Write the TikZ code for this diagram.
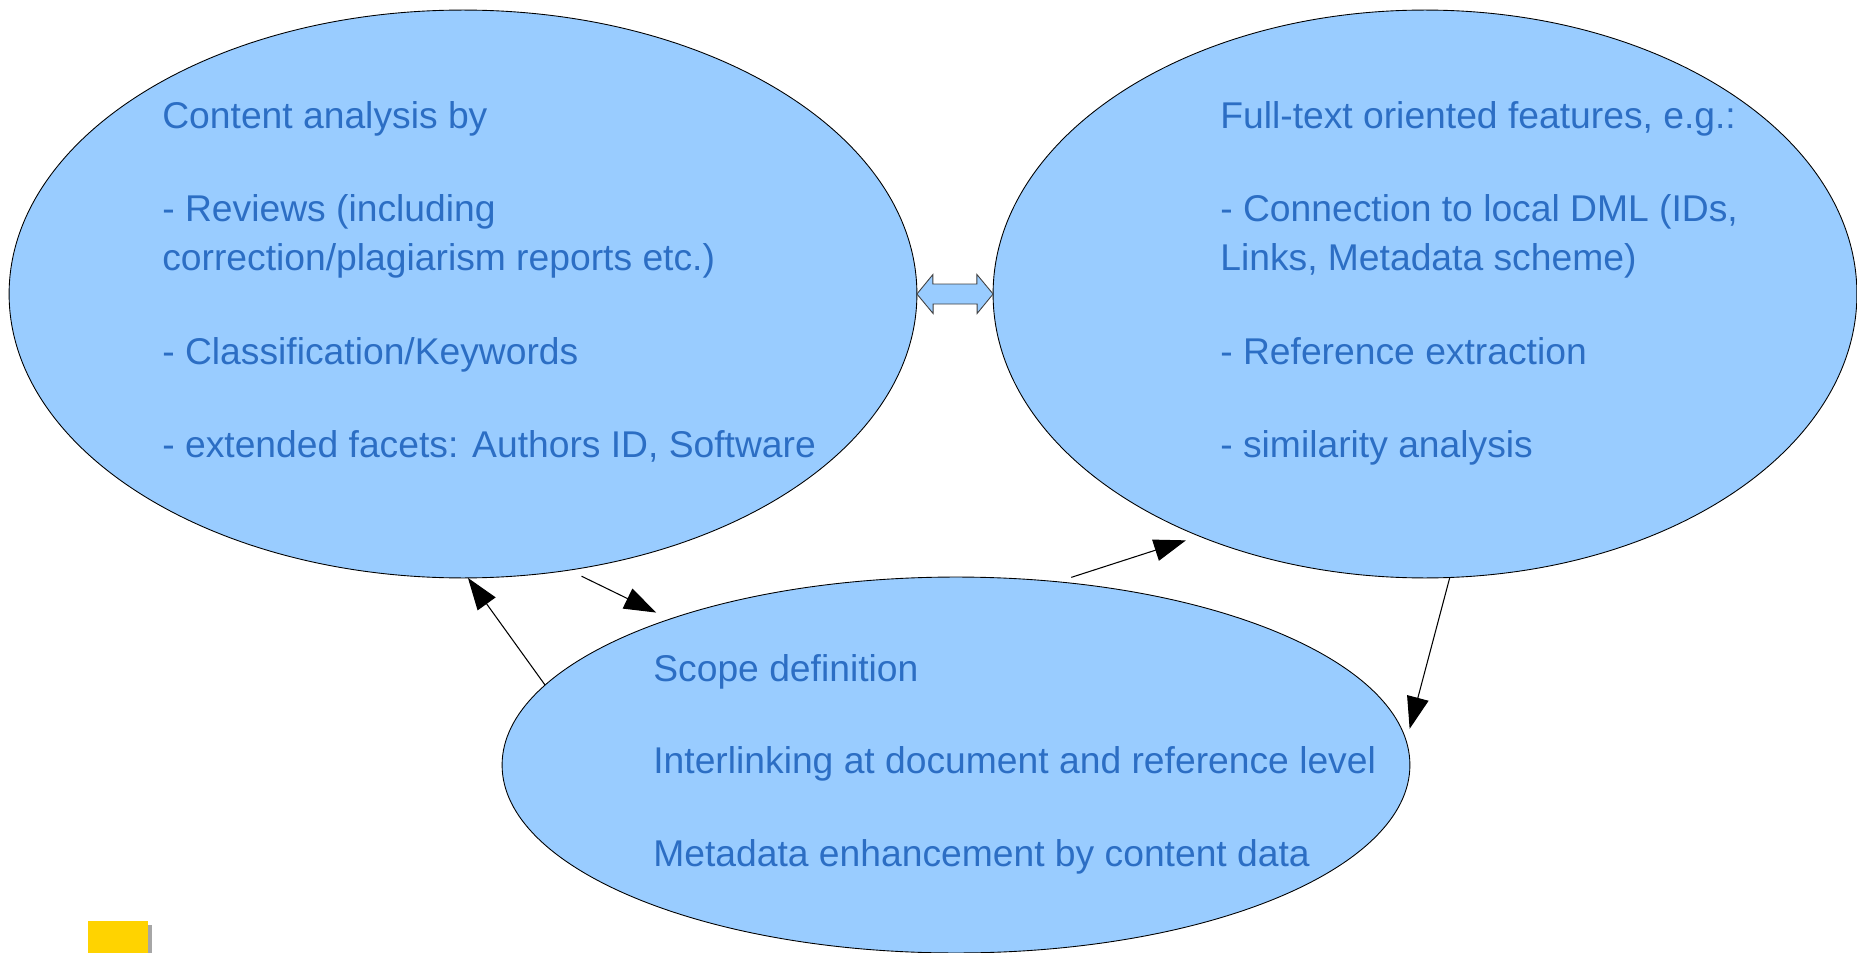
\documentclass[tikz,border=0pt]{standalone}
\usepackage{fontspec}
\setmainfont{Liberation Sans}
\usetikzlibrary{shapes.geometric,arrows.meta}
\definecolor{bubblefill}{RGB}{153,204,255}
\definecolor{bubbletext}{RGB}{44,110,196}
\definecolor{notegold}{RGB}{255,211,0}
\begin{document}
\begin{tikzpicture}[x={0.02cm},y={-0.02cm},
  bubble/.style={ellipse,draw=black,fill=bubblefill,line width=0.5pt,inner sep=0pt,outer sep=0pt},
  txt/.style={anchor=base west,inner sep=0pt,text=bubbletext,font=\fontsize{21.2pt}{25pt}\selectfont},
  link/.style={line width=0.6pt,-{Triangle[length=0.64cm,width=0.44cm]}}]
\useasboundingbox (0,0) rectangle (1857,953);
\clip (0,0) rectangle (1857,953);
\node[bubble,minimum width=18.16cm,minimum height=11.36cm] (left) at (463,294) {};
\node[bubble,minimum width=17.28cm,minimum height=11.36cm] (right) at (1425,294) {};
\node[bubble,minimum width=18.16cm,minimum height=7.52cm] (bot) at (956,765) {};
% texts
\foreach \y/\t [count=\i] in {128.5/{Content analysis by},221.5/{- Reviews (including},270.5/{correction/plagiarism reports etc.)},364.5/{- Classification/Keywords},457.5/{- extended facets: Authors ID, Software}}
  {\node[txt] (lt\i) at (162,\y) {\t};}
\foreach \y/\t [count=\i] in {128.5/{Full-text oriented features, e.g.:},221.5/{- Connection to local DML (IDs,},270.5/{Links, Metadata scheme)},364.5/{- Reference extraction},457.5/{- similarity analysis}}
  {\node[txt] (rt\i) at (1220,\y) {\t};}
\foreach \y/\t [count=\i] in {681.5/{Scope definition},773.5/{Interlinking at document and reference level},866.5/{Metadata enhancement by content data}}
  {\node[txt] (bt\i) at (653,\y) {\t};}
% double arrow
\draw[fill=bubblefill,draw=black!75,line width=0.5pt](left.east)--++(16,-19.5)--++(0,9.5)--++(44,0)--++(0,-9.5)--(right.west)--++(-16,19.5)--++(0,-9.5)--++(-44,0)--++(0,9.5)--cycle;
% links
\draw[link](bot.169.5)--(left.-89.6);
\draw[link,shorten <=0.28cm,shorten >=0.3cm](left.-69.7)--(bot.153.6);
\draw[link,shorten <=0.29cm,shorten >=0.28cm](bot.61.6)--(right.-133.7);
\draw[link,shorten >=0.26cm](right.-85.6)--(bot.3.2);
% note
\fill[black!35](92,925)rectangle(152,960);
\fill[notegold](88,921)rectangle(148,960);
\end{tikzpicture}
\end{document}
